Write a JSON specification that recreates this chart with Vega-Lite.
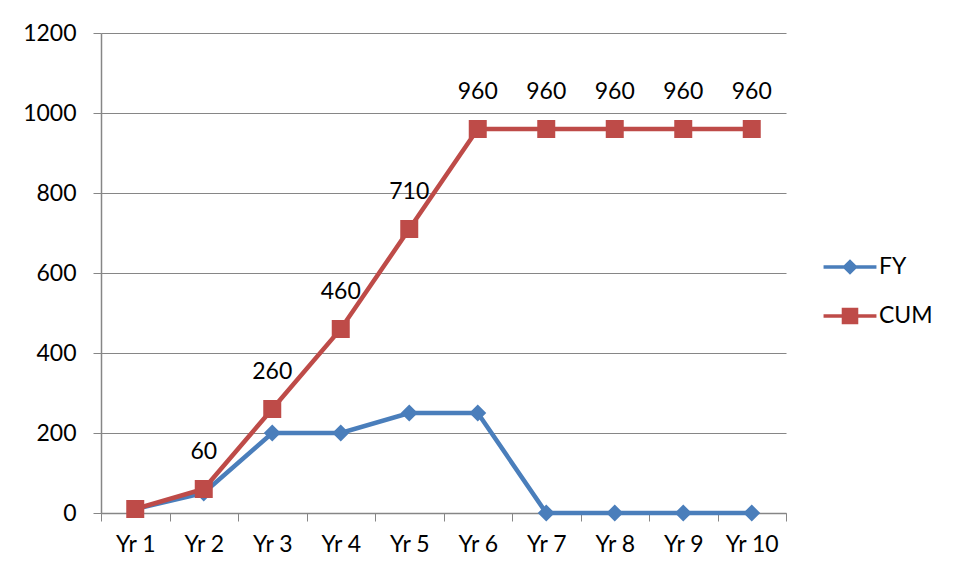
{
  "$schema": "https://vega.github.io/schema/vega-lite/v6.json",
  "width": 685,
  "height": 480,
  "autosize": {"type": "none"},
  "padding": {"left": 101, "top": 33, "right": 180, "bottom": 68},
  "background": "white",
  "config": {
    "view": {"stroke": null},
    "font": "Lato",
    "axis": {"labelFont": "Lato", "labelFontSize": 23, "labelColor": "#000000", "domainColor": "#868686", "tickColor": "#868686", "gridColor": "#868686", "title": null},
    "legend": {"labelFont": "Lato", "labelFontSize": 23, "labelColor": "#000000"}
  },
  "data": {
    "values": [
      {"year": "Yr 1", "series": "FY", "value": 10},
      {"year": "Yr 2", "series": "FY", "value": 50},
      {"year": "Yr 3", "series": "FY", "value": 200},
      {"year": "Yr 4", "series": "FY", "value": 200},
      {"year": "Yr 5", "series": "FY", "value": 250},
      {"year": "Yr 6", "series": "FY", "value": 250},
      {"year": "Yr 7", "series": "FY", "value": 0},
      {"year": "Yr 8", "series": "FY", "value": 0},
      {"year": "Yr 9", "series": "FY", "value": 0},
      {"year": "Yr 10", "series": "FY", "value": 0},
      {"year": "Yr 1", "series": "CUM", "value": 10},
      {"year": "Yr 2", "series": "CUM", "value": 60},
      {"year": "Yr 3", "series": "CUM", "value": 260},
      {"year": "Yr 4", "series": "CUM", "value": 460},
      {"year": "Yr 5", "series": "CUM", "value": 710},
      {"year": "Yr 6", "series": "CUM", "value": 960},
      {"year": "Yr 7", "series": "CUM", "value": 960},
      {"year": "Yr 8", "series": "CUM", "value": 960},
      {"year": "Yr 9", "series": "CUM", "value": 960},
      {"year": "Yr 10", "series": "CUM", "value": 960}
    ]
  },
  "encoding": {
    "x": {
      "field": "year", "type": "nominal", "sort": null, "bandPosition": 0.5,
      "scale": {"type": "band", "paddingInner": 0, "paddingOuter": 0},
      "axis": {"labelAngle": 0, "tickBand": "extent", "tickSize": 8, "labelPadding": 12, "grid": false, "domainWidth": 1.5}
    },
    "y": {
      "field": "value", "type": "quantitative",
      "scale": {"domain": [0, 1200], "nice": false},
      "axis": {"values": [0, 200, 400, 600, 800, 1000, 1200], "format": "d", "tickSize": 8, "labelPadding": 17, "grid": true, "gridWidth": 1.2, "domainWidth": 1.5}
    }
  },
  "layer": [
    {
      "transform": [{"filter": "datum.series === 'FY'"}],
      "mark": {"type": "line", "strokeWidth": 4.5},
      "encoding": {
        "color": {
          "field": "series", "type": "nominal",
          "scale": {"domain": ["FY", "CUM"], "range": ["#4A7EBB", "#BE4B48"]},
          "legend": {
            "title": null, "orient": "none", "legendX": 726, "legendY": 211,
            "symbolSize": 2116, "rowPadding": 14, "labelOffset": 6,
            "encode": {
              "symbols": {
                "update": {
                  "shape": {"signal": "datum.value === 'FY' ? 'M-1.15,-0.08H1.15V0.08H-1.15Z M0,-0.34L0.34,0L0,0.34L-0.34,0Z' : 'M-1.15,-0.08H1.15V0.08H-1.15Z M-0.36,-0.36H0.36V0.36H-0.36Z'"},
                  "fill": {"signal": "datum.value === 'FY' ? '#4A7EBB' : '#BE4B48'"},
                  "stroke": {"value": "transparent"},
                  "strokeWidth": {"value": 0},
                  "opacity": {"value": 1},
                  "fillOpacity": {"value": 1}
                }
              }
            }
          }
        }
      }
    },
    {
      "transform": [{"filter": "datum.series === 'FY'"}],
      "mark": {"type": "point", "shape": "diamond", "filled": true, "size": 289, "opacity": 1},
      "encoding": {"color": {"field": "series", "type": "nominal"}}
    },
    {
      "transform": [{"filter": "datum.series === 'CUM'"}],
      "mark": {"type": "line", "strokeWidth": 4.5},
      "encoding": {"color": {"field": "series", "type": "nominal"}}
    },
    {
      "transform": [{"filter": "datum.series === 'CUM'"}],
      "mark": {"type": "point", "shape": "square", "filled": true, "size": 324, "opacity": 1},
      "encoding": {"color": {"field": "series", "type": "nominal"}}
    },
    {
      "transform": [{"filter": "datum.series === 'CUM' && datum.year !== 'Yr 1'"}],
      "mark": {"type": "text", "dy": -37, "baseline": "middle", "align": "center", "fontSize": 23, "font": "Lato", "color": "#000000"},
      "encoding": {"text": {"field": "value", "type": "quantitative"}}
    }
  ]
}
